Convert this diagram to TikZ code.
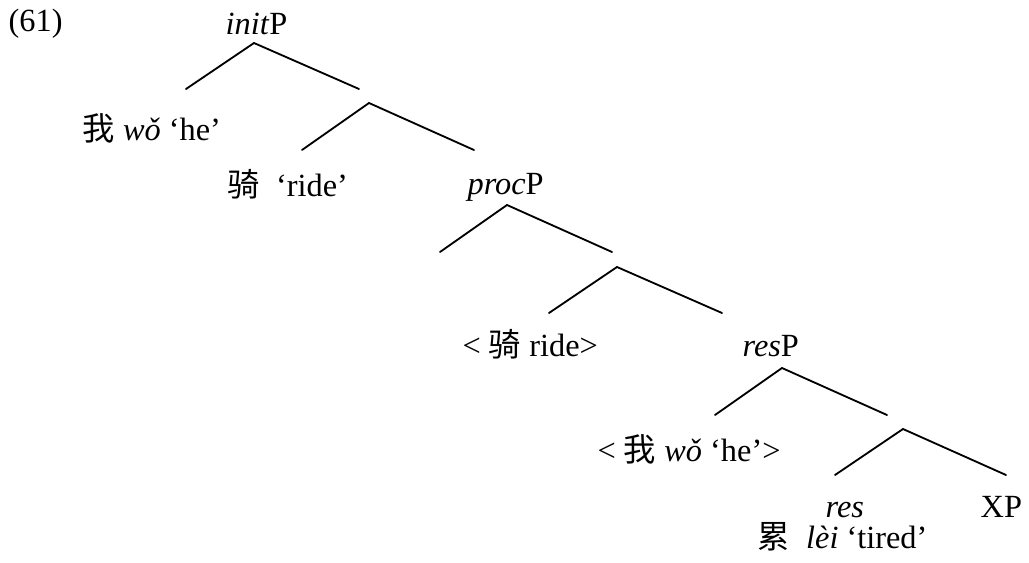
\documentclass[tikz,border=0pt]{standalone}
\usepackage{fontspec}
\setmainfont{Liberation Serif}
\newfontfamily\cjk{Noto Sans CJK SC}
\usetikzlibrary{positioning}

\begin{document}
\begin{tikzpicture}[
    x=0.3pt, y=-0.3pt,
    lbl/.style={anchor=base west, inner sep=0pt, font=\fontsize{9.7}{11.6}\selectfont},
    branch/.style={line width=0.55pt, line cap=round},
  ]
  \useasboundingbox (0, 0) rectangle (1029, 563);
  % Labels
  \node [lbl] (exnum) at (8, 32) {(61)};
  \node [lbl] (initp) at (225, 35) {\textit{init}P};
  \node [lbl] (wo) at (82, 141) {{\cjk 我} \textit{wǒ} `he'};
  \node [lbl] (qi) at (227, 196) {{\cjk 骑}\ \ `ride'};
  \node [lbl] (procp) at (467, 195) {\textit{proc}P};
  \node [lbl] (qitrace) at (462, 357) {< {\cjk 骑} ride>};
  \node [lbl] (resp) at (742, 357) {\textit{res}P};
  \node [lbl] (wotrace) at (597, 461) {< {\cjk 我} \textit{wǒ} `he'>};
  \node [lbl, text depth=0pt] (res) at (825, 517) {\textit{res}};
  \node [lbl] (xp) at (980, 517) {XP};
  \node [lbl, text height=0.75em] (lei) at (757, 548) {{\cjk 累}\ \ \textit{lèi} `tired'};
  % Branch points
  \coordinate (inittop) at (254, 43);
  \coordinate (initl) at (186, 89);
  \coordinate (initr) at (359, 89);
  \coordinate (initbtop) at (369, 103);
  \coordinate (initbl) at (302, 150);
  \coordinate (initbr) at (474, 150);
  \coordinate (proctop) at (507, 205);
  \coordinate (procl) at (440, 252);
  \coordinate (procr) at (612, 252);
  \coordinate (procbtop) at (617, 267);
  \coordinate (procbl) at (549, 313);
  \coordinate (procbr) at (722, 313);
  \coordinate (restop) at (782, 368);
  \coordinate (resl) at (715, 415);
  \coordinate (resr) at (887, 415);
  \coordinate (resbtop) at (903, 429);
  \coordinate (resbl) at (835, 475);
  \coordinate (resbr) at (1006, 475);
  % Branches
  \draw [branch] (initl) -- (inittop) -- (initr);
  \draw [branch] (initbl) -- (initbtop) -- (initbr);
  \draw [branch] (procl) -- (proctop) -- (procr);
  \draw [branch] (procbl) -- (procbtop) -- (procbr);
  \draw [branch] (resl) -- (restop) -- (resr);
  \draw [branch] (resbl) -- (resbtop) -- (resbr);
\end{tikzpicture}
\end{document}
